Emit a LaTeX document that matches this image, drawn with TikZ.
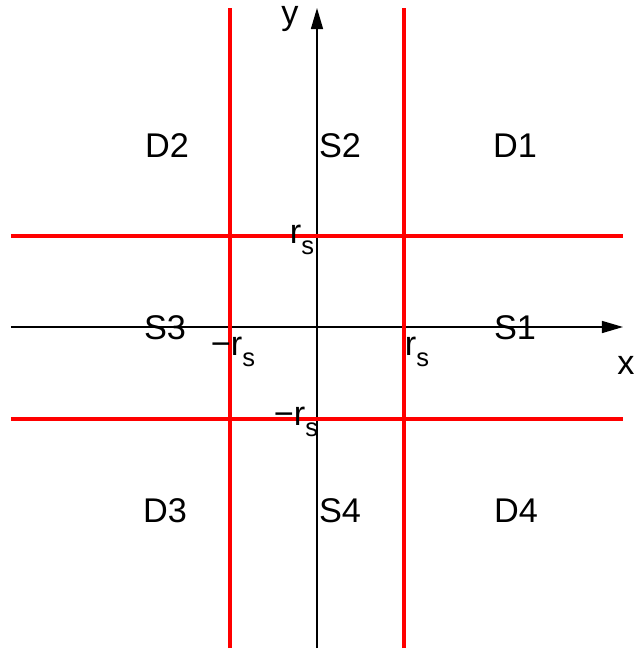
\documentclass[tikz,border=0pt]{standalone}
\usepackage{fontspec}
\setmainfont{Liberation Sans}
\usetikzlibrary{arrows.meta}

\newcommand{\rsub}{r\raisebox{-6.5pt}{\fontsize{14.5}{15}\selectfont s}}

\tikzset{
  axis/.style={line width=0.8pt, black, -{Triangle[length=0.42cm, width=0.24cm]}},
  bound/.style={line width=2.3pt, red},
  region/.style={inner sep=0pt},
  tick/.style={inner sep=0pt}
}

\begin{document}
\begin{tikzpicture}[font=\fontsize{19.5}{23}\selectfont]

  \useasboundingbox (-6.34,-6.50) rectangle (6.36,6.54);

  %--- Coordinates ---------------------------------------------------------
  \coordinate (O)    at ( 0.00, 0.00);
  \coordinate (xL)   at (-6.12, 0.00);
  \coordinate (xR)   at ( 6.12, 0.00);
  \coordinate (yB)   at ( 0.00,-6.42);
  \coordinate (yT)   at ( 0.00, 6.38);
  \coordinate (vLb)  at (-1.74,-6.42);
  \coordinate (vLt)  at (-1.74, 6.38);
  \coordinate (vRb)  at ( 1.74,-6.42);
  \coordinate (vRt)  at ( 1.74, 6.38);
  \coordinate (hTl)  at (-6.12, 1.82);
  \coordinate (hTr)  at ( 6.12, 1.82);
  \coordinate (hBl)  at (-6.12,-1.84);
  \coordinate (hBr)  at ( 6.12,-1.84);

  %--- Axes ----------------------------------------------------------------
  \draw[axis] (xL) -- (xR);
  \draw[axis] (yB) -- (yT);
  \node[region] (xlab) at ( 6.18,-0.76) {x};
  \node[region] (ylab) at (-0.54, 6.16) {y};

  %--- Boundaries at +-r_s -------------------------------------------------
  \draw[bound] (vLb) -- (vLt);
  \draw[bound] (vRb) -- (vRt);
  \draw[bound] (hTl) -- (hTr);
  \draw[bound] (hBl) -- (hBr);

  %--- Tick labels ---------------------------------------------------------
  \node[tick] (rsT) at (-0.30, 1.74) {\rsub};
  \node[tick] (rsB) at (-0.42,-1.90) {−\rsub};
  \node[tick] (rsL) at (-1.68,-0.50) {−\rsub};
  \node[tick] (rsR) at ( 2.00,-0.50) {\rsub};

  %--- Region labels -------------------------------------------------------
  \node[region] (D2) at (-3.00, 3.62) {D2};
  \node[region] (S2) at ( 0.46, 3.62) {S2};
  \node[region] (D1) at ( 3.96, 3.62) {D1};
  \node[region] (S3) at (-3.04,-0.02) {S3};
  \node[region] (S1) at ( 3.96,-0.02) {S1};
  \node[region] (D3) at (-3.04,-3.68) {D3};
  \node[region] (S4) at ( 0.46,-3.68) {S4};
  \node[region] (D4) at ( 3.98,-3.68) {D4};

\end{tikzpicture}
\end{document}
